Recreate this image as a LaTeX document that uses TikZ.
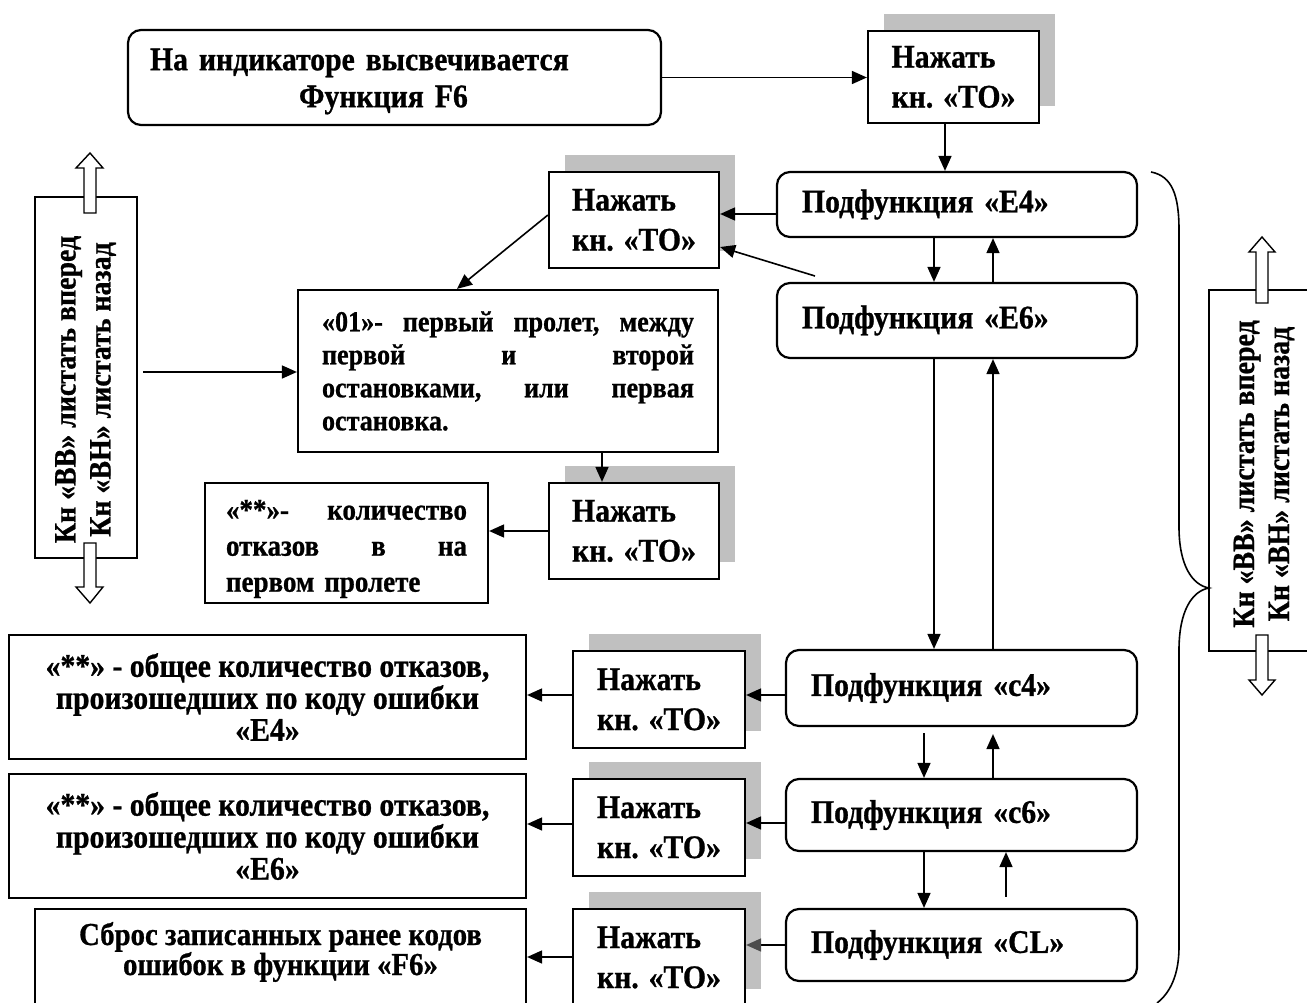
\documentclass[tikz,border=0pt]{standalone}
\usepackage{fontspec}
\usepackage{graphicx}
\setmainfont{Liberation Serif}[FakeStretch=0.9,FakeBold=0.8]
\usetikzlibrary{arrows.meta,calc,shadows}
\definecolor{shadowgray}{HTML}{C0C0C0}
\newcommand\fTop{\fontsize{33}{37}\selectfont\bfseries}
\newcommand\fPress{\fontsize{33}{40}\selectfont\bfseries}
\newcommand\fSub{\fontsize{33}{36}\selectfont\bfseries}
\newcommand\fOne{\fontsize{29}{33}\selectfont\bfseries}
\newcommand\fAst{\fontsize{30}{36}\selectfont\bfseries}
\newcommand\fRes{\fontsize{33}{32}\selectfont\bfseries}
\newcommand\fResB{\fontsize{32}{30}\selectfont\bfseries}
\newcommand\fPan{\fontsize{31}{35}\selectfont\bfseries}
\newcommand\jline[2]{\leavevmode\hbox to #1{#2}}
\begin{document}
\begin{tikzpicture}[x=1pt,y=-1pt,
  box/.style={draw, line width=2.2pt, inner sep=0pt, fill=white},
  rbox/.style={box, rounded corners=13pt},
  pbox/.style={box, minimum width=171pt, minimum height=96pt, align=left, font=\fPress,
    drop shadow={shadow xshift=16pt, shadow yshift=17pt, fill=shadowgray, opacity=1}},
  subbox/.style={rbox, align=left, font=\fSub},
  resbox/.style={box, align=center, font=\fRes},
  arr/.style={line width=1.6pt, -{Triangle[length=15pt,width=13pt]}},
  hollow/.style={draw, fill=white, line width=1.4pt}
]
\useasboundingbox (0,0) rectangle (1307,1003);
\clip (0,0) rectangle (1307,1003);

% top box
\node[rbox, minimum width=533pt, minimum height=95pt,
  label={[yshift=-4pt, text width=489pt, align=left, font=\fTop]center:{На индикаторе высвечивается\\\hspace*{149pt}Функция F6}}] (top) at (394.5,77.5) {};

% press boxes
\node[pbox, minimum height=92pt] (p1) at (953.5,77) {Нажать\\кн. «ТО»};
\node[pbox, minimum width=170pt] (p2) at (634,220) {Нажать\\кн. «ТО»};
\node[pbox, minimum width=170pt] (p3) at (634,531) {Нажать\\кн. «ТО»};
\node[pbox, minimum width=172pt, minimum height=97pt] (p4) at (659,699.5) {Нажать\\кн. «ТО»};
\node[pbox, minimum width=172pt, minimum height=97pt] (p5) at (659,827.5) {Нажать\\кн. «ТО»};
\node[pbox, minimum width=172pt, minimum height=97pt] (p6) at (659,957.5) {Нажать\\кн. «ТО»};

% sub-function boxes
\node[subbox, minimum width=360pt, minimum height=65pt, text width=310pt] (e4) at (957,204.5) {Подфункция «E4»};
\node[subbox, minimum width=360pt, minimum height=75pt, text width=310pt] (e6) at (957,320.5) {Подфункция «E6»};
\node[subbox, minimum width=351pt, minimum height=76pt, text width=301pt] (c4) at (961.5,688) {Подфункция «c4»};
\node[subbox, minimum width=351pt, minimum height=72pt, text width=301pt] (c6) at (961.5,815) {Подфункция «c6»};
\node[subbox, minimum width=351pt, minimum height=72pt, text width=301pt] (cl) at (961.5,945) {Подфункция «CL»};

% first span box
\node[box, minimum width=420pt, minimum height=162pt, text width=372pt, align=left, font=\fOne] (n01) at (508,371)
  {\jline{372pt}{«01»-\hfill первый\hfill пролет,\hfill между}\\
   \jline{372pt}{первой\hfill и\hfill второй}\\
   \jline{372pt}{остановками,\hfill или\hfill первая}\\
   остановка.};

% failures box
\node[box, minimum width=283pt, minimum height=120pt,
  label={[yshift=-6pt, text width=241pt, align=left, font=\fAst]center:{\jline{241pt}{«**»-\hfill количество}\\
   \jline{241pt}{отказов\hfill в\hfill на}\\
   первом пролете}}] (a1) at (346.5,543) {};

% result boxes
\node[resbox, minimum width=517pt, minimum height=124pt] (r1) at (267.5,697)
  {«**» - общее количество отказов,\\произошедших по коду ошибки\\«E4»};
\node[resbox, minimum width=517pt, minimum height=124pt] (r2) at (267.5,836)
  {«**» - общее количество отказов,\\произошедших по коду ошибки\\«E6»};
\node[box, minimum width=491pt, minimum height=111pt,
  label={[yshift=12.5pt, align=center, font=\fResB]center:{Сброс записанных ранее кодов\\ошибок в функции «F6»}}] (r3) at (280.5,964.5) {};

% side panels
\node[box, minimum width=102pt, minimum height=361pt, font=\fPan] (lp) at (86,377.5)
  {\rotatebox{90}{\begin{tabular}{@{}c@{}}Кн «ВВ» листать вперед\\Кн «ВН» листать назад\end{tabular}\hspace*{24pt}}};
\node[box, minimum width=111pt, minimum height=361pt, font=\fPan] (rp) at (1264.5,470.5)
  {\rotatebox{90}{\begin{tabular}{@{}c@{}}Кн «ВВ» листать вперед\\Кн «ВН» листать назад\end{tabular}\hspace*{7pt}}};

% hollow arrows
\draw[hollow] (84,213) -- (84,168) -- (76,168) -- (90,153) -- (103,168) -- (96,168) -- (96,213) -- cycle;
\draw[hollow] (84,543) -- (84,587) -- (76,587) -- (90,603) -- (103,587) -- (96,587) -- (96,543) -- cycle;
\draw[hollow] (1256,303) -- (1256,252) -- (1249,252) -- (1262,237) -- (1275,252) -- (1268,252) -- (1268,303) -- cycle;
\draw[hollow] (1256,635) -- (1256,680) -- (1249,680) -- (1262,695) -- (1275,680) -- (1268,680) -- (1268,635) -- cycle;

% brace
\draw[line width=1.6pt] (1151,172) .. controls (1172,176) and (1179,195) .. (1179,230) -- (1179,527)
  .. controls (1179,565) and (1192,585) .. (1209,588)
  .. controls (1192,591) and (1179,611) .. (1179,650) -- (1179,947)
  .. controls (1179,975) and (1170,993) .. (1157,1003);

% connectors
\draw[arr] (top.east) -- (top.east -| p1.west);
\coordinate (k1) at ([xshift=-8.5pt]p1.south);
\draw[arr] (k1) -- (k1 |- e4.north);
\coordinate (k2) at ([yshift=-9.5pt]e4.west);
\draw[arr] (k2) -- (k2 -| p2.east);
\coordinate (k3) at (815,276);
\draw[arr] (k3) -- ([yshift=-27pt]p2.east);
\draw[arr] ([yshift=5pt]p2.west) -- ([xshift=-51pt]n01.north);
\coordinate (k4) at ([xshift=5pt,yshift=5.5pt]lp.east);
\draw[arr] (k4) -- (k4 -| n01.west);
\coordinate (k5) at ([xshift=94pt]n01.south);
\draw[arr] (k5) -- (k5 |- p3.north);
\draw[arr] (p3.west) -- (p3.west -| a1.east);
\coordinate (k6) at ([xshift=-23pt]e4.south);
\draw[arr] (k6) -- (k6 |- e6.north);
\coordinate (k7) at ([xshift=36pt]e6.north);
\draw[arr] (k7) -- (k7 |- e4.south);
\coordinate (k8) at ([xshift=-23pt]e6.south);
\draw[arr] (k8) -- (k8 |- c4.north);
\coordinate (k9) at ([xshift=31.5pt]c4.north);
\draw[arr] (k9) -- (k9 |- e6.south);
\coordinate (k10) at ([xshift=-37.5pt,yshift=-6pt]c4.south);
\draw[arr] (k10) -- (k10 |- c6.north);
\coordinate (k11) at ([xshift=31.5pt]c6.north);
\coordinate (k11e) at ([xshift=31.5pt,yshift=-7pt]c4.south);
\draw[arr] (k11) -- (k11e);
\coordinate (k12) at ([xshift=-37.5pt]c6.south);
\draw[arr] (k12) -- (k12 |- cl.north);
\coordinate (k13) at ([xshift=44.5pt,yshift=11pt]cl.north);
\draw[arr] (k13) -- (k13 |- c6.south);
\coordinate (k14) at ([yshift=-7pt]c4.west);
\draw[arr] (k14) -- (k14 -| p4.east);
\coordinate (k15) at ([yshift=-8pt]c6.west);
\draw[arr] (k15) -- (k15 -| p5.east);
\draw[line width=1.6pt, -{Triangle[length=15pt,width=13pt,color=black!70]}] (cl.west) -- (cl.west -| p6.east);
\coordinate (k16) at ([yshift=4.5pt]p4.west);
\draw[arr] (k16) -- (k16 -| r1.east);
\coordinate (k17) at ([yshift=3.5pt]p5.west);
\draw[arr] (k17) -- (k17 -| r2.east);
\coordinate (k18) at ([yshift=0.5pt]p6.west);
\draw[arr] (k18) -- (k18 -| r3.east);
\end{tikzpicture}
\end{document}
